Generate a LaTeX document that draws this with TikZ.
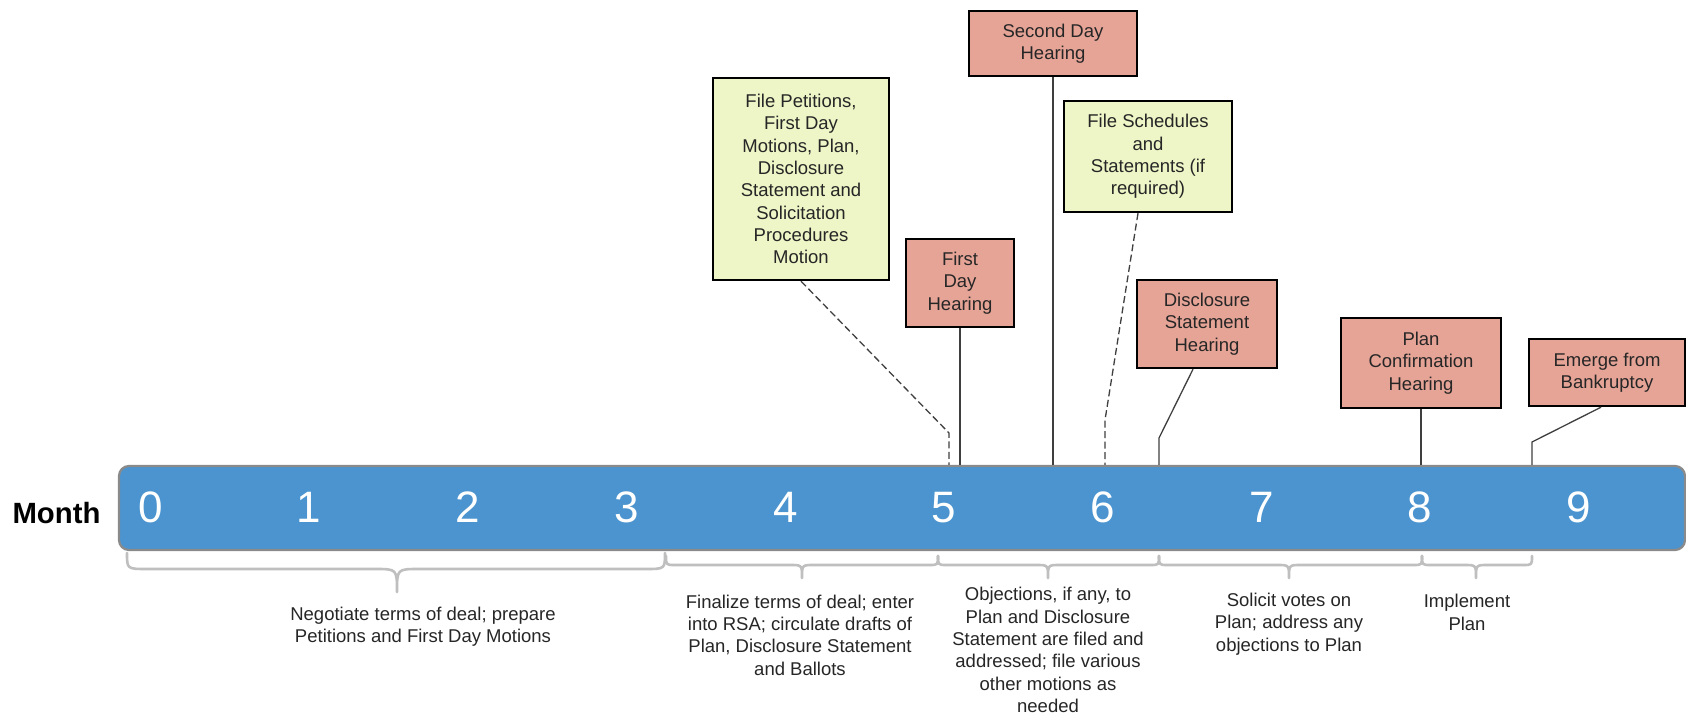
\documentclass[tikz,border=0pt]{standalone}
\usepackage{fontspec}
\setmainfont{Liberation Sans}
\definecolor{barblue}{HTML}{4B94CF}
\definecolor{bargray}{HTML}{8A8A8A}
\definecolor{hearpink}{HTML}{E6A497}
\definecolor{filegreen}{HTML}{EEF5C6}
\definecolor{bracegray}{HTML}{BFBFBF}
\definecolor{linegray}{HTML}{3F3F3F}
\definecolor{textgray}{HTML}{262626}
\newcommand{\boxfont}{\fontsize{9.25pt}{11.15pt}\selectfont}
% curly brace: left x, tip x, right x, end y, line y, tip y, end curl, tip curl
\newcommand{\phasebrace}[8]{%
  \draw[bracestyle] (#1,#4) .. controls (#1,#5) .. (#1+#7,#5) -- (#2-#8,#5)
    .. controls (#2,#5) .. (#2,#6) .. controls (#2,#5) .. (#2+#8,#5)
    -- (#3-#7,#5) .. controls (#3,#5) .. (#3,#4);}
\begin{document}
\begin{tikzpicture}[x=0.5pt, y=-0.5pt,
  evbox/.style={draw=black, line width=1.2pt, inner sep=0pt, align=center,
    font=\boxfont, text=textgray},
  hearing/.style={evbox, fill=hearpink},
  filing/.style={evbox, fill=filegreen},
  conn/.style={draw=linegray, line width=0.65pt},
  dashconn/.style={conn, dash pattern=on 3.5pt off 1.75pt},
  phase/.style={align=center, font=\boxfont, text=textgray, inner sep=0pt},
  bracestyle/.style={draw=bracegray, line width=1.3pt, line cap=round, line join=round},
  monthnum/.style={anchor=base, text=white, font=\fontsize{22pt}{26pt}\selectfont, inner sep=0pt}
]
\useasboundingbox[fill=white] (0,0) rectangle (1686,717);

% timeline bar with month numbers
\node[draw=bargray, line width=1.1pt, fill=barblue, rounded corners=5pt,
      minimum width=783pt, minimum height=42pt, inner sep=0pt] (bar) at (902,508) {};
\node[anchor=base, inner sep=0pt, text=black,
      font=\fontsize{14.65pt}{17pt}\selectfont\bfseries] (month) at (56.5,523) {Month};
\foreach \m in {0,...,9}
  \node[monthnum] (m\m) at ({150.5+158.7*\m},522) {\m};

% events above the bar
\node[filing, minimum width=88pt, minimum height=101pt] (fp) at (801,179)
  {File Petitions,\\First Day\\Motions, Plan,\\Disclosure\\Statement and\\Solicitation\\Procedures\\Motion};
\node[hearing, minimum width=54pt, minimum height=44pt] (fdh) at (960,283)
  {First\\Day\\Hearing};
\node[hearing, minimum width=84pt, minimum height=32.5pt] (sdh) at (1053,43.5)
  {Second Day\\Hearing};
\node[filing, minimum width=84pt, minimum height=55.5pt] (fs) at (1148,156.5)
  {File Schedules\\and\\Statements (if\\required)};
\node[hearing, minimum width=70pt, minimum height=44pt] (dsh) at (1207,324)
  {Disclosure\\Statement\\Hearing};
\node[hearing, minimum width=80pt, minimum height=45pt] (pch) at (1421,363)
  {Plan\\Confirmation\\Hearing};
\node[hearing, minimum width=78pt, minimum height=33.5pt] (efb) at (1607,372.5)
  {Emerge from\\Bankruptcy};

% leader lines to the bar
\coordinate (fpk) at (949,433);
\draw[dashconn] (fp.south) -- (fpk) -- (fpk |- bar.north);
\draw[conn] (fdh.south) -- (fdh.south |- bar.north);
\draw[conn] (sdh.south) -- (sdh.south |- bar.north);
\coordinate (fsk) at (1105,420);
\draw[dashconn] ([xshift=-5pt]fs.south) -- (fsk) -- (fsk |- bar.north);
\coordinate (dsk) at (1159,438);
\draw[conn] ([xshift=-7pt]dsh.south) -- (dsk) -- (dsk |- bar.north);
\draw[conn] (pch.south) -- (pch.south |- bar.north);
\coordinate (efk) at (1532,442);
\draw[conn] ([xshift=-3pt]efb.south) -- (efk) -- (efk |- bar.north);

% phase braces under the bar
\phasebrace{127}{397}{665}{553}{569}{592}{20}{22}
\phasebrace{666}{802}{938}{556}{565}{578}{9}{12}
\phasebrace{938}{1048}{1159}{556}{565}{578}{9}{12}
\phasebrace{1159}{1289}{1422}{556}{565}{578}{9}{12}
\phasebrace{1422}{1476}{1532}{556}{565}{578}{9}{12}

% phase descriptions
\node[phase] (p1) at (423,627) {Negotiate terms of deal; prepare\\Petitions and First Day Motions};
\node[phase] (p2) at (800,635) {Finalize terms of deal; enter\\into RSA; circulate drafts of\\Plan, Disclosure Statement\\and Ballots};
\node[phase] (p3) at (1048,650) {Objections, if any, to\\Plan and Disclosure\\Statement are filed and\\addressed; file various\\other motions as\\needed};
\node[phase] (p4) at (1289,624) {Solicit votes on\\Plan; address any\\objections to Plan};
\node[phase] (p5) at (1467,612.5) {Implement\\Plan};
\end{tikzpicture}
\end{document}
